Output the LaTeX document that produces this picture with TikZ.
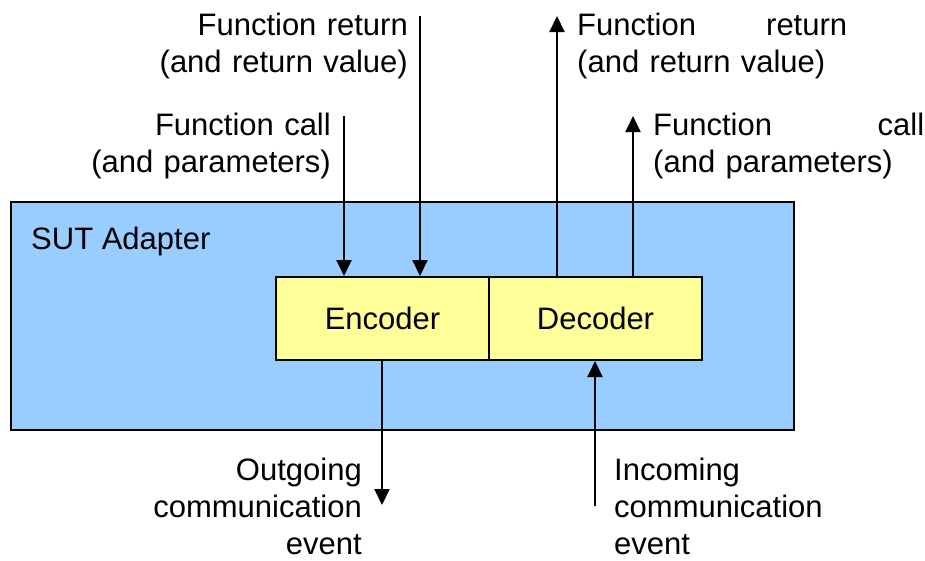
\documentclass[tikz,border=0pt]{standalone}
\usepackage{fontspec}
\setmainfont{Liberation Sans}
\usetikzlibrary{arrows.meta}
\definecolor{adapterblue}{HTML}{99CCFF}
\definecolor{codecyellow}{HTML}{FFFF99}
\begin{document}
\begin{tikzpicture}[x=1pt,y=-1pt,
  every node/.style={font=\fontsize{31}{37}\selectfont},
  lbl/.style={inner sep=0pt, text width=280pt},
  codec/.style={draw=black, line width=2pt, fill=codecyellow, minimum width=213pt, minimum height=83pt, inner sep=0pt},
  sig/.style={line width=2pt, -{Triangle[width=15pt,length=16pt]}}]
\useasboundingbox (0,0) rectangle (925,560);
\node[draw=black, line width=2pt, fill=adapterblue, minimum width=783pt, minimum height=228pt, inner sep=0pt, anchor=north west] (adapter) at (10,201) {};
\node[inner sep=0pt, anchor=base west] (sutlabel) at (31,249) {SUT Adapter};
\node[codec] (encoder) at (382.5,318.5) {Encoder};
\node[codec] (decoder) at (595.5,318.5) {Decoder};
% labels
\node[lbl, align=right, anchor=base east] (fretL) at (408,35) {Function return\\(and return value)};
\node[lbl, align=right, anchor=base east] (fcallL) at (331,135) {Function call\\(and parameters)};
\node[lbl, text width=270pt, align=left, anchor=base west] (fretR) at (577,35) {Function\hskip 0pt plus 1filll return\\(and return value)};
\node[lbl, text width=271pt, align=left, anchor=base west] (fcallR) at (653,135) {Function\hskip 0pt plus 1filll call\\(and parameters)};
\node[lbl, text width=230pt, align=right, anchor=base east] (outlbl) at (362,480) {Outgoing\\communication\\event};
\node[lbl, text width=230pt, align=left, anchor=base west] (inlbl) at (614,480) {Incoming\\communication\\event};
% free ends
\coordinate (fcallin) at (344,116);
\coordinate (fretin) at (420,16);
\coordinate (fretout) at (557,16);
\coordinate (fcallout) at (633,116);
\coordinate (outev) at (382,505);
\coordinate (inev) at (595,506);
% connectors
\draw[sig] (fcallin) -- (encoder.north -| fcallin);
\draw[sig] (fretin) -- (encoder.north -| fretin);
\draw[sig] (decoder.north -| fretout) -- (fretout);
\draw[sig] (decoder.north -| fcallout) -- (fcallout);
\draw[sig] (encoder.south -| outev) -- (outev);
\draw[sig] (inev) -- (decoder.south -| inev);
\end{tikzpicture}
\end{document}
